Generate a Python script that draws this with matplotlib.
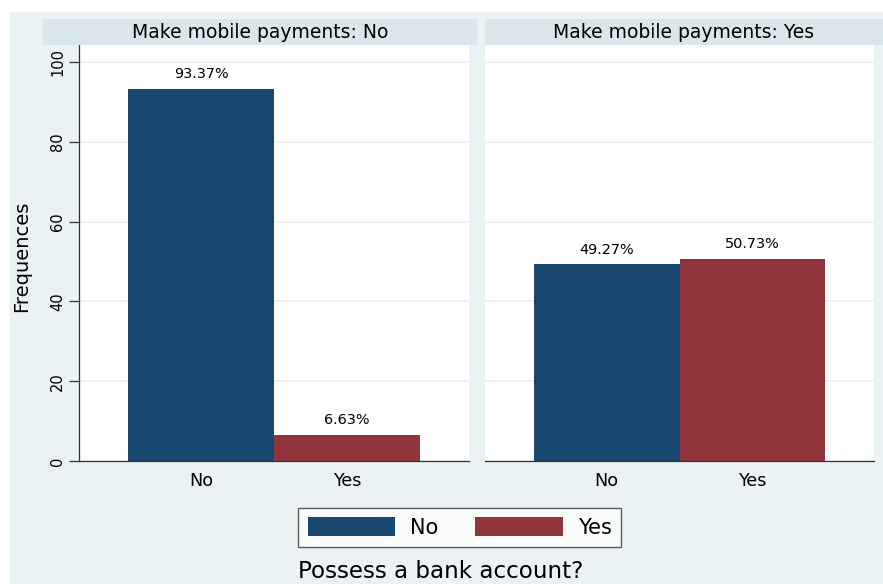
import numpy as np
import matplotlib
matplotlib.use("Agg")
import matplotlib.pyplot as plt
from matplotlib.patches import Rectangle, Patch

# data
panels = ["Make mobile payments: No", "Make mobile payments: Yes"]
categories = ["No", "Yes"]
pct_mobile_no = [93.37, 6.63]
pct_mobile_yes = [49.27, 50.73]
yticks = [0, 20, 40, 60, 80, 100]

W, H = 883, 584
bg = "#EAF2F3"
head_bg = "#D9E6EB"
blue = "#1A476F"
red = "#90353B"
dark = "#333333"

plt.rcParams["font.family"] = "DejaVu Sans"

fig = plt.figure(figsize=(W / 100, H / 100), dpi=100)
fig.patch.set_facecolor("white")
fig.add_artist(Rectangle((10 / W, 0), 1 - 10 / W, 1 - 12 / H,
                         transform=fig.transFigure, facecolor=bg,
                         edgecolor="none", zorder=0))

ax1 = fig.add_axes([79 / W, 1 - 461 / H, 390 / W, 416 / H])
ax2 = fig.add_axes([485 / W, 1 - 461 / H, 389 / W, 416 / H])

# panel headers
for (x0, x1), title in zip([(43, 477), (485, 883)], panels):
    fig.add_artist(Rectangle((x0 / W, 1 - 45 / H), (x1 - x0) / W, 26 / H,
                             transform=fig.transFigure, facecolor=head_bg,
                             edgecolor="none", zorder=1))
    fig.text((x0 + x1) / 2 / W, 1 - 32 / H, title, ha="center", va="center",
             fontsize=13.5, color="black")

x = np.arange(len(categories))
for ax, vals in zip([ax1, ax2], [pct_mobile_no, pct_mobile_yes]):
    ax.set_facecolor("white")
    bars = ax.bar(x, vals, width=1.0, color=[blue, red], zorder=2)
    for b, v in zip(bars, vals):
        ax.annotate(f"{v:.2f}%", (b.get_x() + b.get_width() / 2, v),
                    xytext=(0, 5.5), textcoords="offset points",
                    ha="center", va="bottom", fontsize=10.4)
    ax.set_xlim(-0.836, 1.836)
    ax.set_ylim(0, 104.3)
    ax.set_xticks(x)
    ax.set_xticklabels(categories, fontsize=12.7)
    ax.tick_params(axis="x", length=0, pad=8)
    ax.set_yticks(yticks)
    ax.grid(axis="y", color=bg, linewidth=1.3, zorder=0)
    ax.set_axisbelow(True)
    for s in ["top", "right"]:
        ax.spines[s].set_visible(False)
    ax.spines["bottom"].set_color(dark)
    ax.spines["left"].set_color(dark)
    ax.spines["bottom"].set_linewidth(0.9)
    ax.spines["left"].set_linewidth(0.9)

ax1.tick_params(axis="y", length=7, width=0.9, color=dark, pad=3,
                labelsize=10.5, labelrotation=90)
for lab in ax1.get_yticklabels():
    lab.set_va("center")
ax2.spines["left"].set_visible(False)
ax2.tick_params(axis="y", length=0, labelleft=False)

fig.text(22 / W, 1 - 256 / H, "Frequences", rotation=90, ha="center",
         va="center", fontsize=14)

handles = [Patch(facecolor=blue, edgecolor="none"),
           Patch(facecolor=red, edgecolor="none")]
leg = fig.legend(handles, categories, loc="center", ncol=2,
                 bbox_to_anchor=(459.5 / W, 1 - 527.5 / H),
                 fontsize=15, frameon=True, fancybox=False,
                 handlelength=4.2, handleheight=1.0, handletextpad=0.7,
                 columnspacing=1.8, borderpad=0.45, borderaxespad=0)
leg.get_frame().set_edgecolor(dark)
leg.get_frame().set_linewidth(1.0)
leg.get_frame().set_facecolor("white")

fig.text(441 / W, 1 - 571 / H, "Possess a bank account?", ha="center",
         va="center", fontsize=16.6)

fig.savefig("out.png", dpi=100)
